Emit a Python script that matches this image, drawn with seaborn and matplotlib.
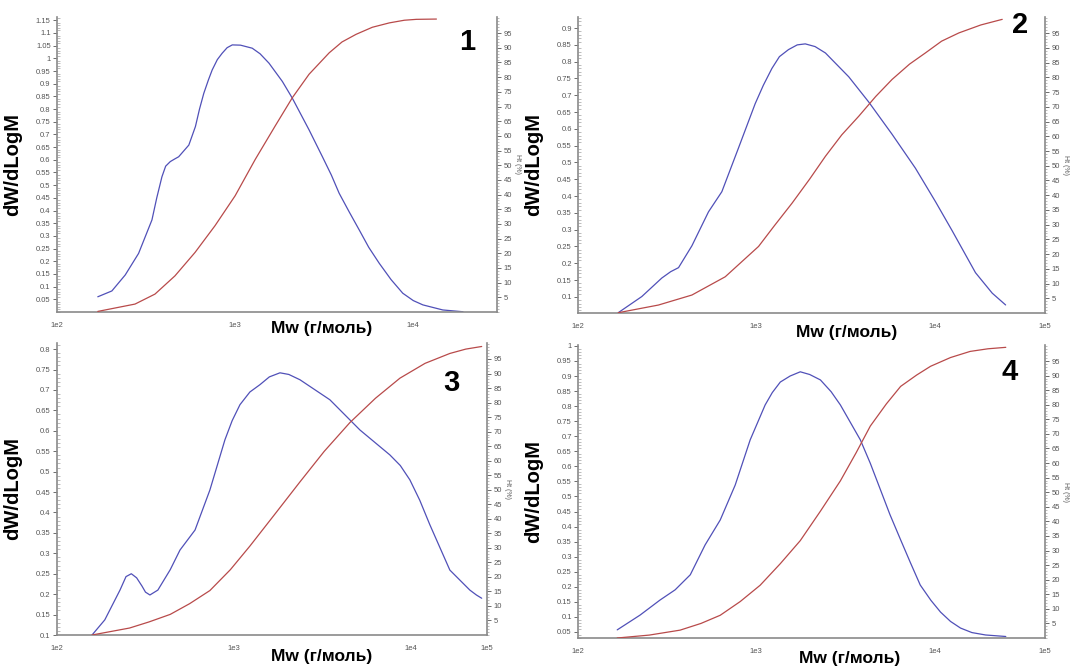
import numpy as np
import matplotlib
matplotlib.use("Agg")
import matplotlib.pyplot as plt
import seaborn as sns
from matplotlib.ticker import NullFormatter, LogLocator, MultipleLocator

sns.set_style("white")
plt.rcParams['font.family'] = ['Liberation Sans', 'DejaVu Sans']
plt.rcParams['text.color'] = 'black'

# ---------------- data (log10 Mw, dW/dLogM, cumulative Ht %) ----------------
p1_blue_lgM = [2.229, 2.308, 2.383, 2.458, 2.533, 2.560, 2.589, 2.610, 2.636, 2.660, 2.683, 2.740,
               2.777, 2.800, 2.824, 2.850, 2.871, 2.900, 2.927, 2.955, 2.984, 3.030, 3.096, 3.140,
               3.190, 3.265, 3.321, 3.415, 3.490, 3.540, 3.584, 3.640, 3.697, 3.750, 3.809, 3.875,
               3.941, 4.000, 4.054, 4.166, 4.279]
p1_blue_val = [0.060, 0.083, 0.146, 0.231, 0.363, 0.450, 0.533, 0.575, 0.593, 0.603, 0.612, 0.658,
               0.731, 0.800, 0.862, 0.915, 0.954, 0.995, 1.020, 1.042, 1.053, 1.052, 1.040, 1.018,
               0.981, 0.909, 0.843, 0.718, 0.612, 0.540, 0.468, 0.395, 0.323, 0.255, 0.192, 0.128,
               0.074, 0.045, 0.028, 0.008, 0.001]
p1_red_lgM = [2.229, 2.438, 2.550, 2.662, 2.775, 2.887, 3.000, 3.113, 3.225, 3.321, 3.415, 3.528,
              3.600, 3.679, 3.770, 3.866, 3.950, 4.017, 4.130]
p1_red_pct = [0.2, 2.7, 6.1, 12.3, 20.3, 29.4, 39.6, 52.0, 63.4, 73.0, 81.0, 88.3,
              92.0, 94.6, 97.0, 98.5, 99.4, 99.7, 99.8]

p2_blue_lgM = [2.226, 2.358, 2.470, 2.520, 2.564, 2.639, 2.732, 2.807, 2.901, 2.994, 3.040, 3.088,
               3.130, 3.181, 3.230, 3.275, 3.330, 3.388, 3.519, 3.631, 3.762, 3.893, 4.006, 4.099,
               4.230, 4.324, 4.399]
p2_blue_val = [0.053, 0.101, 0.156, 0.175, 0.187, 0.252, 0.353, 0.413, 0.544, 0.675, 0.730, 0.780,
               0.815, 0.836, 0.850, 0.853, 0.845, 0.826, 0.755, 0.680, 0.584, 0.483, 0.383, 0.297,
               0.172, 0.111, 0.076]
p2_red_lgM = [2.226, 2.451, 2.639, 2.826, 3.013, 3.100, 3.201, 3.300, 3.388, 3.480, 3.575, 3.670,
              3.762, 3.860, 3.949, 4.040, 4.137, 4.260, 4.380]
p2_red_pct = [0.1, 2.7, 6.1, 12.3, 22.6, 29.5, 37.3, 45.5, 53.2, 60.5, 66.8, 73.5,
              79.3, 84.5, 88.3, 92.3, 95.1, 97.8, 99.7]

p3_blue_lgM = [2.198, 2.270, 2.356, 2.390, 2.420, 2.450, 2.480, 2.500, 2.525, 2.570, 2.640, 2.695,
               2.780, 2.864, 2.949, 2.990, 3.034, 3.090, 3.147, 3.200, 3.260, 3.310, 3.373, 3.542,
               3.712, 3.881, 3.940, 3.994, 4.050, 4.107, 4.220, 4.333, 4.370, 4.400]
p3_blue_val = [0.100, 0.137, 0.210, 0.243, 0.250, 0.240, 0.220, 0.205, 0.198, 0.210, 0.260, 0.308,
               0.357, 0.455, 0.578, 0.625, 0.664, 0.695, 0.713, 0.732, 0.742, 0.738, 0.725, 0.676,
               0.602, 0.541, 0.515, 0.480, 0.430, 0.370, 0.259, 0.210, 0.198, 0.190]
p3_red_lgM = [2.198, 2.410, 2.520, 2.640, 2.750, 2.864, 2.980, 3.090, 3.230, 3.373, 3.510, 3.655,
              3.800, 3.938, 4.080, 4.220, 4.310, 4.400]
p3_red_pct = [0.0, 2.4, 4.5, 7.1, 10.8, 15.3, 22.5, 30.6, 41.5, 52.7, 63.2, 73.1,
              81.5, 88.4, 93.5, 96.9, 98.4, 99.3]

p4_blue_lgM = [2.220, 2.348, 2.460, 2.545, 2.630, 2.713, 2.798, 2.882, 2.966, 3.050, 3.090, 3.135,
               3.190, 3.247, 3.300, 3.360, 3.420, 3.472, 3.584, 3.640, 3.697, 3.750, 3.810, 3.865,
               3.920, 3.980, 4.034, 4.090, 4.146, 4.210, 4.287, 4.400]
p4_blue_val = [0.057, 0.106, 0.156, 0.190, 0.240, 0.339, 0.422, 0.538, 0.688, 0.804, 0.845, 0.880,
               0.900, 0.914, 0.905, 0.887, 0.848, 0.804, 0.688, 0.610, 0.522, 0.440, 0.356, 0.280,
               0.206, 0.155, 0.116, 0.085, 0.063, 0.048, 0.040, 0.035]
p4_red_lgM = [2.220, 2.400, 2.573, 2.690, 2.798, 2.910, 3.022, 3.135, 3.247, 3.360, 3.472, 3.560,
              3.640, 3.730, 3.810, 3.900, 3.978, 4.090, 4.200, 4.300, 4.400]
p4_red_pct = [0.0, 1.0, 2.7, 5.0, 7.8, 12.5, 18.1, 25.5, 33.4, 43.5, 53.9, 63.5,
              72.7, 80.3, 86.3, 90.2, 93.2, 96.2, 98.3, 99.2, 99.7]

panel_labels = ["1", "2", "3", "4"]
x_tick_labels_short = ["1e2", "1e3", "1e4"]
x_tick_labels_long = ["1e2", "1e3", "1e4", "1e5"]
ylabel_left = "dW/dLogM"
ylabel_right = "Ht (%)"
xlabel = "Mw (г/моль)"

W, H = 1072, 667
blue = "#5050b8"
red = "#b84a4a"
spine_c = "#8a8a8a"
tick_c = "#555555"

panels = [
    dict(box=(57, 497, 17, 312), xmax_lg=4.47, ylim=(0.0, 1.163), yt=(0.05, 1.15),
         bl=p1_blue_lgM, bv=p1_blue_val, rl=p1_red_lgM, rv=p1_red_pct, ends=False,
         num_xy=(467, 42), xl_x=322, xl_y=329),
    dict(box=(578, 1045, 17, 313), xmax_lg=4.62, ylim=(0.052, 0.933), yt=(0.1, 0.9),
         bl=p2_blue_lgM, bv=p2_blue_val, rl=p2_red_lgM, rv=p2_red_pct, ends=True,
         num_xy=(1020, 25), xl_x=847, xl_y=332),
    dict(box=(57, 487, 343, 635), xmax_lg=4.43, ylim=(0.1, 0.815), yt=(0.1, 0.8),
         bl=p3_blue_lgM, bv=p3_blue_val, rl=p3_red_lgM, rv=p3_red_pct, ends=True,
         num_xy=(451, 383), xl_x=322, xl_y=657),
    dict(box=(578, 1045, 345, 638), xmax_lg=4.62, ylim=(0.03, 1.003), yt=(0.05, 1.0),
         bl=p4_blue_lgM, bv=p4_blue_val, rl=p4_red_lgM, rv=p4_red_pct, ends=True,
         num_xy=(1010, 372), xl_x=850, xl_y=659),
]

fig = plt.figure(figsize=(W / 100, H / 100), dpi=100)

for i, p in enumerate(panels):
    l, r, t, b = p["box"]
    ax = fig.add_axes([l / W, 1 - b / H, (r - l) / W, (b - t) / H])
    ax.set_xscale("log")
    sns.lineplot(x=10 ** np.array(p["bl"]), y=p["bv"], ax=ax, color=blue, lw=0.9, sort=False)
    xmax = 10 ** p["xmax_lg"]
    ax.set_xlim(100, xmax)
    ax.set_ylim(*p["ylim"])
    if p["ends"]:
        ax.set_xticks([1e2, 1e3, 1e4, xmax])
        ax.set_xticklabels(x_tick_labels_long)
    else:
        ax.set_xticks([1e2, 1e3, 1e4])
        ax.set_xticklabels(x_tick_labels_short)
    ax.xaxis.set_minor_locator(LogLocator(base=10, subs=np.arange(2, 10)))
    ax.xaxis.set_minor_formatter(NullFormatter())
    y0, y1 = p["yt"]
    yt = np.round(np.arange(y0, y1 + 1e-9, 0.05), 2)
    ax.set_yticks(yt)
    ax.set_yticklabels([f"{v:g}" for v in yt])
    ax.yaxis.set_minor_locator(MultipleLocator(0.01))
    ax.tick_params(axis="both", which="major", labelsize=5.5, colors=tick_c, length=3, width=0.6,
                   direction="out", pad=1.5)
    ax.tick_params(axis="x", which="major", pad=4)
    ax.tick_params(axis="both", which="minor", length=2, width=0.4, colors=spine_c, direction="in")
    for s in ["top", "right"]:
        ax.spines[s].set_visible(False)
    for s in ["left", "bottom"]:
        ax.spines[s].set_color(spine_c)
        ax.spines[s].set_linewidth(1.2)
    ax.set_ylabel(ylabel_left, fontsize=14.5, fontweight="bold", color="black")
    ax.yaxis.set_label_coords(-35 / (r - l), 0.5)
    ax.set_xlabel("")
    fig.text(p["xl_x"] / W, 1 - p["xl_y"] / H, xlabel, fontsize=12.5, fontweight="bold",
             ha="center", va="center", color="black")

    ax2 = ax.twinx()
    sns.lineplot(x=10 ** np.array(p["rl"]), y=p["rv"], ax=ax2, color=red, lw=0.9, sort=False)
    ax2.set_ylim(0, 100.5)
    rt = np.arange(5, 100, 5)
    ax2.set_yticks(rt)
    ax2.set_yticklabels([str(v) for v in rt])
    ax2.yaxis.set_minor_locator(MultipleLocator(1))
    ax2.tick_params(axis="y", which="major", labelsize=5.5, colors=tick_c, length=3, width=0.6,
                    direction="out", pad=2)
    ax2.tick_params(axis="y", which="minor", length=1.5, width=0.4, colors=spine_c, direction="out")
    for s in ["top", "left", "bottom"]:
        ax2.spines[s].set_visible(False)
    ax2.spines["right"].set_color(spine_c)
    ax2.spines["right"].set_linewidth(1.2)
    ax2.set_ylabel(ylabel_right, fontsize=5, color=tick_c, rotation=270, labelpad=6)
    ax2.set_xlabel("")

    fig.text(p["num_xy"][0] / W, 1 - p["num_xy"][1] / H, panel_labels[i], fontsize=21,
             fontweight="bold", ha="center", va="center", color="black")

fig.savefig("out.png", dpi=100)
